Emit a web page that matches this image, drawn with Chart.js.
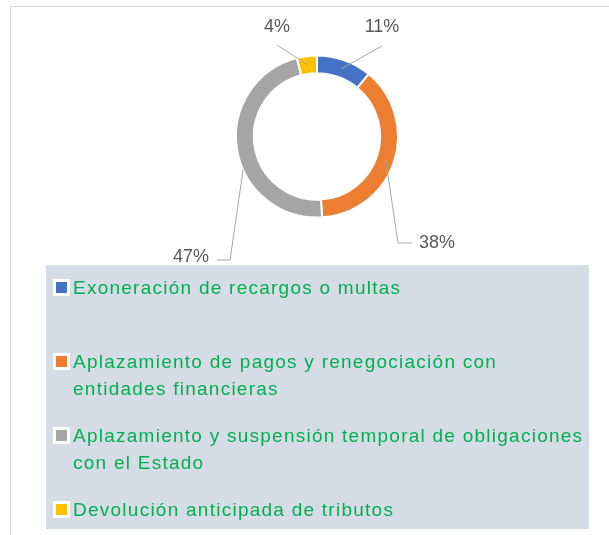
<!DOCTYPE html>
<html>
<head>
<meta charset="utf-8">
<script src="https://cdn.jsdelivr.net/npm/chart.js@4/dist/chart.umd.min.js"></script>
<style>
  html, body { margin:0; padding:0; background:#fff; }
  #wrap { position:relative; width:609px; height:535px; overflow:hidden; }
  #frame { position:absolute; left:10px; top:6px; width:620px; height:560px;
           border-top:1px solid #d9d9d9; border-left:1px solid #d9d9d9; }
  #c { position:absolute; left:0; top:0; }
  #legend { position:absolute; left:46px; top:265px; width:543px; height:264px;
            background:#d6dce5; box-sizing:border-box; padding-top:0; }
  .item { position:absolute; left:0; height:74px; width:560px; }
  .mk { position:absolute; left:7px; width:11px; height:11px; border:3px solid #fff; }
  .tx { position:absolute; left:27px; width:521px; font-family:"Liberation Sans", Arial, sans-serif;
        font-size:19px; letter-spacing:1.25px; line-height:27px; color:#00b050; }
</style>
</head>
<body>
<div id="wrap">
  <div id="frame"></div>
  <canvas id="c" width="609" height="535"></canvas>
  <div id="legend"></div>
</div>
<script>
const categories = [
  "Exoneración de recargos o multas",
  "Aplazamiento de pagos y renegociación con entidades financieras",
  "Aplazamiento y suspensión temporal de obligaciones con el Estado",
  "Devolución anticipada de tributos"
];
const values = [11, 38, 47, 4];
const colors = ["#4472c4", "#ed7d31", "#a5a5a5", "#ffc000"];

// label leader-line layout (pixel offsets from the doughnut centre)
const labelLayout = [
  { frac:0.5,  rfrac:0.5, pts:[[65,-90.5]],            text:[65,-109.5], align:"center" },
  { frac:0.5,  rfrac:0.5, pts:[[81,106.5],[95,106.5]], text:[102,106.5], align:"left" },
  { frac:0.41, rfrac:1.0, pts:[[-87,123.5],[-100,123.5]], text:[-108,121], align:"right" },
  { frac:0.5,  rfrac:0.5, pts:[[-40,-91.5]],           text:[-40,-109.5], align:"center" }
];

const leaderPlugin = {
  id: "leaders",
  afterDatasetsDraw(chart) {
    const ctx = chart.ctx;
    const meta = chart.getDatasetMeta(0);
    const total = values.reduce((a, b) => a + b, 0);
    meta.data.forEach((arc, i) => {
      const p = arc.getProps(["x","y","startAngle","endAngle","innerRadius","outerRadius"], true);
      const L = labelLayout[i];
      const ang = p.startAngle + L.frac * (p.endAngle - p.startAngle);
      const r = p.innerRadius + L.rfrac * (p.outerRadius - p.innerRadius);
      const ax = p.x + Math.cos(ang) * r, ay = p.y + Math.sin(ang) * r;
      ctx.save();
      ctx.strokeStyle = "#a6a6a6";
      ctx.lineWidth = 1;
      ctx.beginPath();
      ctx.moveTo(ax, ay);
      L.pts.forEach(q => ctx.lineTo(p.x + q[0], p.y + q[1]));
      ctx.stroke();
      ctx.fillStyle = "#595959";
      ctx.font = "18px 'Liberation Sans', Arial, sans-serif";
      ctx.textAlign = L.align;
      ctx.textBaseline = "middle";
      const pct = Math.round(values[i] / total * 100) + "%";
      ctx.fillText(pct, p.x + L.text[0], p.y + L.text[1]);
      ctx.restore();
    });
  }
};

new Chart(document.getElementById("c"), {
  type: "doughnut",
  data: {
    labels: categories,
    datasets: [{
      data: values,
      backgroundColor: colors,
      borderColor: "#ffffff",
      borderWidth: 2
    }]
  },
  options: {
    responsive: false,
    animation: false,
    cutout: "78%",
    layout: { padding: { left: 235, right: 210, top: 54.5, bottom: 316.5 } },
    plugins: { legend: { display: false }, tooltip: { enabled: false } }
  },
  plugins: [leaderPlugin]
});

// legend (HTML, built from the same arrays)
const leg = document.getElementById("legend");
categories.forEach((name, i) => {
  const it = document.createElement("div");
  it.className = "item";
  it.style.top = (9 + i * 74) + "px";
  const mk = document.createElement("div");
  mk.className = "mk";
  mk.style.background = colors[i];
  mk.style.top = "5px";
  const tx = document.createElement("div");
  tx.className = "tx";
  tx.style.top = "0px";
  tx.textContent = name;
  it.appendChild(mk);
  it.appendChild(tx);
  leg.appendChild(it);
});
</script>
</body>
</html>
